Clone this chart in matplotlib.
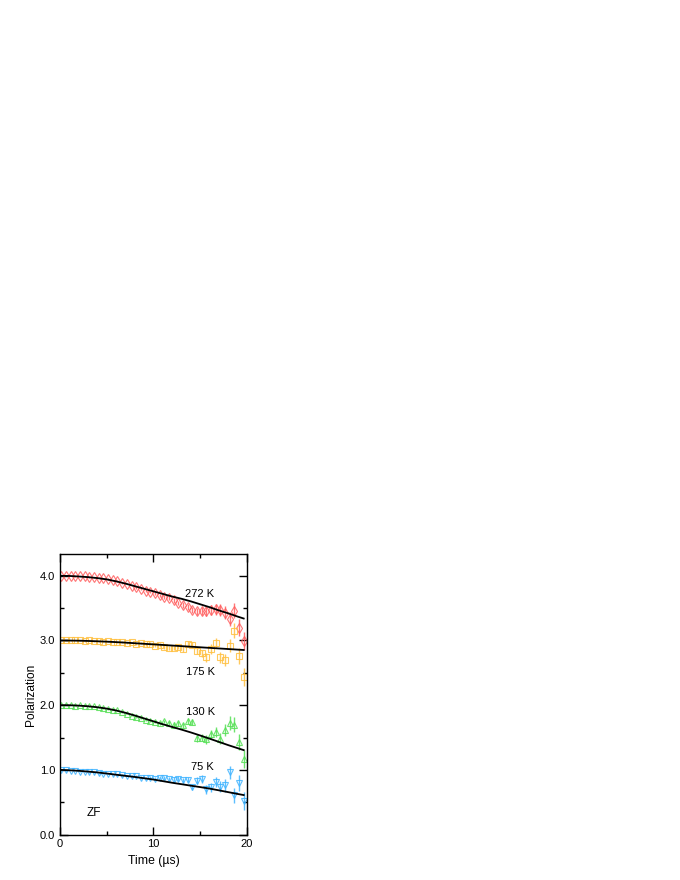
import matplotlib
matplotlib.use('Agg')
import matplotlib.pyplot as plt
from matplotlib.ticker import MultipleLocator

plt.rcParams['font.family'] = ['Liberation Sans', 'DejaVu Sans']

# time bins (us)
time = [0.15, 0.65, 1.15, 1.65, 2.15, 2.65, 3.15, 3.65, 4.15, 4.65,
        5.15, 5.65, 6.15, 6.65, 7.15, 7.65, 8.15, 8.65, 9.15, 9.65,
        10.15, 10.65, 11.15, 11.65, 12.15, 12.65, 13.15, 13.65, 14.15, 14.65,
        15.15, 15.65, 16.15, 16.65, 17.15, 17.65, 18.15, 18.65, 19.15, 19.65]

err = [0.004, 0.004, 0.005, 0.005, 0.005, 0.006, 0.006, 0.007, 0.007, 0.008,
       0.009, 0.010, 0.011, 0.012, 0.013, 0.014, 0.016, 0.017, 0.019, 0.021,
       0.023, 0.025, 0.028, 0.031, 0.034, 0.037, 0.041, 0.045, 0.049, 0.054,
       0.060, 0.066, 0.072, 0.079, 0.087, 0.096, 0.105, 0.116, 0.127, 0.140]

pol_272 = [4.00, 4.00, 4.00, 3.99, 4.00, 3.99, 3.98, 3.98, 3.97, 3.96,
           3.95, 3.93, 3.92, 3.89, 3.88, 3.85, 3.82, 3.80, 3.77, 3.75,
           3.73, 3.70, 3.67, 3.65, 3.62, 3.58, 3.55, 3.52, 3.47, 3.45,
           3.46, 3.45, 3.47, 3.48, 3.47, 3.43, 3.33, 3.46, 3.20, 2.99]

pol_175 = [3.01, 3.00, 3.00, 3.01, 3.00, 2.99, 3.00, 2.99, 2.99, 2.98,
           2.99, 2.98, 2.97, 2.98, 2.96, 2.97, 2.95, 2.96, 2.94, 2.95,
           2.92, 2.93, 2.90, 2.89, 2.88, 2.90, 2.87, 2.94, 2.93, 2.84,
           2.80, 2.74, 2.87, 2.96, 2.74, 2.70, 2.92, 3.15, 2.76, 2.44]

pol_130 = [2.00, 2.00, 2.00, 1.99, 2.00, 1.99, 1.98, 1.98, 1.97, 1.95,
           1.94, 1.93, 1.92, 1.89, 1.87, 1.84, 1.82, 1.80, 1.77, 1.76,
           1.74, 1.72, 1.75, 1.73, 1.70, 1.72, 1.69, 1.75, 1.74, 1.49,
           1.50, 1.47, 1.55, 1.58, 1.48, 1.62, 1.72, 1.70, 1.43, 1.17]

pol_75 = [0.99, 0.99, 0.98, 0.98, 0.97, 0.97, 0.96, 0.96, 0.95, 0.94,
          0.94, 0.93, 0.93, 0.92, 0.91, 0.90, 0.90, 0.88, 0.87, 0.88,
          0.86, 0.88, 0.87, 0.86, 0.85, 0.86, 0.84, 0.85, 0.73, 0.83,
          0.86, 0.70, 0.73, 0.81, 0.74, 0.76, 0.96, 0.61, 0.80, 0.52]

# fitted curves sampled every 1 us
fit_time = [0, 1, 2, 3, 4, 5, 6, 7, 8, 9, 10,
            11, 12, 13, 14, 15, 16, 17, 18, 19, 19.65]
fit_272 = [4.00, 3.998, 3.99, 3.98, 3.965, 3.945, 3.915, 3.88, 3.84, 3.80, 3.76,
           3.72, 3.68, 3.645, 3.605, 3.56, 3.515, 3.465, 3.42, 3.37, 3.34]
fit_175 = [3.00, 2.999, 2.997, 2.993, 2.988, 2.982, 2.975, 2.967, 2.958, 2.949, 2.94,
           2.931, 2.922, 2.913, 2.904, 2.895, 2.886, 2.877, 2.868, 2.859, 2.853]
fit_130 = [2.00, 1.999, 1.993, 1.983, 1.968, 1.947, 1.918, 1.882, 1.84, 1.795, 1.75,
           1.705, 1.663, 1.622, 1.578, 1.531, 1.482, 1.432, 1.382, 1.335, 1.305]
fit_75 = [1.00, 0.993, 0.985, 0.973, 0.96, 0.943, 0.925, 0.907, 0.89, 0.87, 0.85,
          0.825, 0.80, 0.778, 0.755, 0.733, 0.71, 0.683, 0.655, 0.627, 0.61]

labels = ['272 K', '175 K', '130 K', '75 K']
label_pos = [(13.4, 3.72), (13.5, 2.52), (13.5, 1.89), (14.0, 1.04)]


def main():
    fig = plt.figure(figsize=(6.8, 8.8), dpi=100)
    ax = fig.add_axes([0.0882, 0.0517, 0.2750, 0.3182])

    series = [
        (pol_272, fit_272, '#ff5f5f', 'd'),
        (pol_175, fit_175, '#ffc040', 's'),
        (pol_130, fit_130, '#55e055', '^'),
        (pol_75, fit_75, '#40b4ff', 'v'),
    ]
    for data, fit, color, marker in series:
        ax.errorbar(time, data, yerr=err, fmt=marker, color=color,
                    mfc='none', mec=color, ms=4.6, mew=0.8, elinewidth=1.0,
                    capsize=0, alpha=0.85, zorder=2)
        ax.plot(fit_time, fit, color='black', lw=1.3, zorder=3)

    for text, (x, y) in zip(labels, label_pos):
        ax.text(x, y, text, fontsize=8, ha='left', va='center')
    ax.text(2.85, 0.335, 'ZF', fontsize=8.5, ha='left', va='center')

    ax.set_xlim(0, 20)
    ax.set_ylim(0, 4.33)
    ax.xaxis.set_major_locator(MultipleLocator(10))
    ax.xaxis.set_minor_locator(MultipleLocator(5))
    ax.yaxis.set_major_locator(MultipleLocator(1))
    ax.yaxis.set_minor_locator(MultipleLocator(0.5))
    ax.set_yticklabels(['%.1f' % v for v in ax.get_yticks()])
    ax.tick_params(which='both', direction='in', top=True, right=True,
                   labelsize=8, width=1)
    ax.tick_params(which='major', length=5.8)
    ax.tick_params(which='minor', length=3)
    for s in ax.spines.values():
        s.set_linewidth(1)

    ax.set_xlabel('Time (µs)', fontsize=8.8, labelpad=4)
    ax.set_ylabel('Polarization', fontsize=8.6, labelpad=2)

    fig.savefig('out.png', dpi=100)


if __name__ == "__main__":
    main()
